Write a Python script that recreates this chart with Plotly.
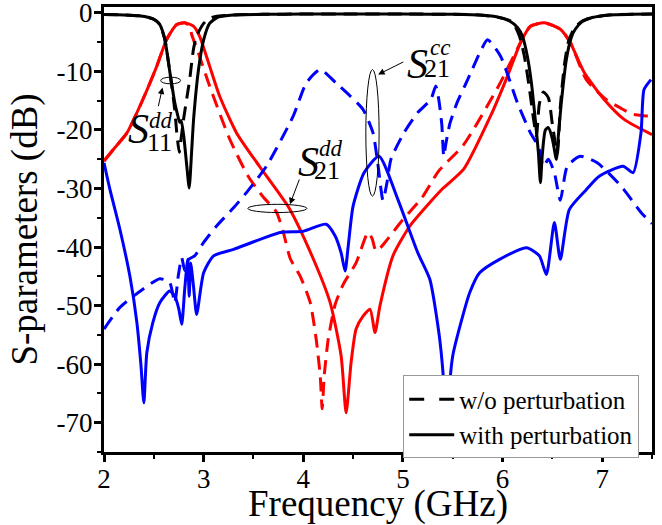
import plotly.graph_objects as go

# ---------------- data ----------------
# S11dd, with perturbation (solid black)
s11_with_f = [2.0, 2.2, 2.35, 2.45, 2.52, 2.56, 2.61, 2.66, 2.71, 2.74, 2.76, 2.775, 2.8, 2.83, 2.855,
              2.88, 2.9, 2.95, 3.0, 3.06, 3.15, 3.3, 3.6, 4.0, 4.5, 5.0, 5.5, 5.8, 5.95, 6.07, 6.15,
              6.2, 6.25, 6.29, 6.33, 6.36, 6.38, 6.40, 6.43, 6.46, 6.5, 6.54, 6.56, 6.59, 6.64, 6.69,
              6.73, 6.8, 6.9, 7.07, 7.3, 7.5]
s11_with_db = [-0.3, -0.35, -0.5, -0.8, -1.3, -2.0, -4.5, -10.0, -15.3, -17.5, -18.7, -18.4, -21.0, -26.0, -29.9,
               -23.5, -18.0, -9.5, -4.6, -1.8, -0.7, -0.35, -0.25, -0.2, -0.2, -0.2, -0.25, -0.4, -0.7, -1.4, -2.5,
               -4.0, -7.5, -12.0, -18.5, -23.9, -29.0, -24.0, -20.0, -19.6, -21.5, -25.0, -21.0, -15.3, -8.0, -4.2,
               -2.8, -1.5, -0.8, -0.35, -0.25, -0.2]

# S11dd, w/o perturbation (dashed black)
s11_wo_f = [2.0, 2.2, 2.35, 2.45, 2.52, 2.56, 2.61, 2.66, 2.71, 2.73, 2.755, 2.77, 2.8, 2.84, 2.86, 2.88,
            2.9, 2.93, 2.96, 3.0, 3.05, 3.12, 3.3, 3.6, 4.0, 4.5, 5.0, 5.5, 5.8, 6.0, 6.1, 6.17, 6.22,
            6.27, 6.31, 6.34, 6.37, 6.41, 6.46, 6.5, 6.55, 6.58, 6.62, 6.66, 6.72, 6.8, 6.9, 7.07, 7.3, 7.5]
s11_wo_db = [-0.3, -0.35, -0.5, -0.8, -1.3, -2.0, -4.5, -10.0, -16.5, -20.4, -23.8, -22.0, -18.0, -13.6, -11.4, -8.5,
             -6.0, -4.0, -2.9, -1.8, -1.0, -0.6, -0.35, -0.25, -0.2, -0.2, -0.2, -0.25, -0.4, -0.9, -1.6, -4.0, -7.5,
             -13.0, -18.0, -21.0, -15.5, -13.5, -14.5, -19.0, -24.0, -16.0, -9.0, -5.0, -2.6, -1.4, -0.8, -0.35, -0.25, -0.2]

# S21dd, with perturbation (solid red)
s21dd_with_f = [2.0, 2.1, 2.23, 2.39, 2.53, 2.63, 2.73, 2.81, 2.9, 2.96, 3.06, 3.16, 3.33, 3.56, 3.86, 4.1,
                4.27, 4.38, 4.43, 4.48, 4.53, 4.6, 4.67, 4.72, 4.77, 4.9, 5.07, 5.27, 5.4, 5.61, 5.88, 6.05,
                6.18, 6.28, 6.42, 6.58, 6.68, 6.82, 7.02, 7.22, 7.5]
s21dd_with_db = [-25.3, -23.2, -20.5, -14.8, -9.1, -4.5, -2.0, -1.7, -2.3, -4.0, -9.1, -14.2, -20.5, -26.2, -33.4, -42.0,
                 -49.5, -58.6, -68.3, -59.7, -54.0, -51.8, -50.6, -54.6, -50.0, -41.5, -36.4, -32.4, -30.0, -26.7, -17.6, -10.8,
                 -5.1, -2.3, -1.7, -2.8, -5.1, -10.2, -14.8, -18.2, -20.8]

# S21dd, w/o perturbation (dashed red)
s21dd_wo_f = [2.0, 2.1, 2.23, 2.39, 2.53, 2.63, 2.73, 2.81, 2.86, 2.88, 2.95, 3.06, 3.26, 3.45, 3.6, 3.73,
              3.8, 3.87, 3.97, 4.07, 4.13, 4.17, 4.19, 4.21, 4.25, 4.32, 4.4, 4.53, 4.65, 4.69, 4.73, 4.78,
              4.83, 5.0, 5.19, 5.36, 5.61, 5.96, 6.18, 6.28, 6.42, 6.58, 6.68, 6.84, 7.04, 7.21, 7.3, 7.44, 7.5]
s21dd_wo_db = [-25.3, -23.2, -20.5, -14.8, -9.1, -4.5, -2.0, -1.7, -2.3, -3.7, -7.0, -12.5, -21.5, -28.0, -31.5, -34.0,
               -37.5, -42.0, -45.0, -49.5, -55.8, -62.0, -67.6, -62.0, -55.8, -49.8, -46.4, -42.7, -37.5, -38.5, -40.7, -40.0,
               -39.0, -35.3, -31.6, -27.0, -22.5, -12.5, -5.1, -2.3, -1.7, -2.8, -5.0, -11.4, -14.8, -16.5, -17.3, -17.6, -17.6]

# S21cc, with perturbation (solid blue)
s21cc_with_f = [2.0, 2.06, 2.16, 2.26, 2.33, 2.37, 2.4, 2.43, 2.49, 2.56, 2.66, 2.71, 2.75, 2.78, 2.81, 2.84,
                2.855, 2.87, 2.9, 2.93, 3.0, 3.1, 3.3, 3.77, 4.0, 4.23, 4.32, 4.38, 4.42, 4.45, 4.5, 4.61,
                4.76, 4.95, 5.15, 5.27, 5.37, 5.42, 5.44, 5.46, 5.5, 5.6, 5.67, 5.77, 5.97, 6.24, 6.37, 6.44,
                6.52, 6.58, 6.67, 6.84, 6.97, 7.21, 7.31, 7.39, 7.42, 7.49]
s21cc_with_db = [-25.6, -30.2, -37.0, -45.0, -52.9, -60.0, -66.6, -58.0, -52.9, -49.5, -47.5, -48.4, -50.5, -53.2, -47.2, -42.1,
                 -48.4, -42.7, -47.0, -51.5, -44.4, -41.5, -40.4, -37.5, -37.3, -36.1, -38.1, -41.0, -44.1, -40.0, -33.0, -27.3,
                 -24.5, -31.9, -41.0, -45.5, -55.8, -66.0, -78.0, -66.0, -58.6, -51.8, -47.8, -44.4, -42.1, -40.1, -41.5, -44.7,
                 -35.8, -42.1, -33.6, -30.2, -27.9, -26.2, -27.3, -20.4, -13.1, -11.4]

# S21cc, w/o perturbation (dashed blue)
s21cc_wo_f = [2.0, 2.16, 2.39, 2.56, 2.66, 2.71, 2.745, 2.78, 2.81, 2.85, 2.91, 3.0, 3.13, 3.3, 3.43, 3.63,
              3.9, 4.03, 4.17, 4.33, 4.47, 4.6, 4.7, 4.75, 4.8, 4.84, 4.88, 5.01, 5.15, 5.28, 5.33, 5.36,
              5.39, 5.41, 5.43, 5.47, 5.54, 5.62, 5.7, 5.78, 5.85, 5.98, 6.15, 6.28, 6.36, 6.41, 6.46, 6.52,
              6.58, 6.65, 6.78, 6.95, 7.19, 7.39, 7.5]
s21cc_wo_db = [-54.0, -50.3, -47.2, -45.4, -46.1, -49.5, -45.0, -41.8, -44.0, -42.1, -41.5, -39.2, -36.4, -33.3, -30.7, -26.2,
               -17.6, -12.0, -9.7, -12.0, -14.2, -16.5, -20.5, -26.0, -32.0, -29.0, -25.0, -20.5, -17.0, -14.8, -12.5, -14.8,
               -19.0, -24.5, -22.5, -19.0, -15.5, -12.5, -9.5, -6.5, -4.6, -7.4, -15.4, -20.5, -22.8, -26.2, -25.0, -27.3,
               -32.0, -26.2, -24.5, -25.6, -29.6, -34.1, -36.0]

x_ticks = [2, 3, 4, 5, 6, 7]
y_ticks = [0, -10, -20, -30, -40, -50, -60, -70]
y_ticktext = ["0", "-10", "-20", "-30", "-40", "-50", "-60", "-70"]
legend_labels = ["w/o perturbation", "with perturbation"]

# ---------------- figure ----------------
FONT = "Times New Roman, Liberation Serif, DejaVu Serif, serif"
DASH = "14px,8px"
LW = 3

fig = go.Figure()

curves = [
    (s21dd_wo_f, s21dd_wo_db, "#FF0000", DASH),
    (s21dd_with_f, s21dd_with_db, "#FF0000", "solid"),
    (s21cc_wo_f, s21cc_wo_db, "#0000FF", DASH),
    (s21cc_with_f, s21cc_with_db, "#0000FF", "solid"),
    (s11_wo_f, s11_wo_db, "#000000", DASH),
    (s11_with_f, s11_with_db, "#000000", "solid"),
]
for fx, fy, col, dash in curves:
    fig.add_trace(go.Scatter(x=fx, y=fy, mode="lines", showlegend=False, hoverinfo="skip",
                             line=dict(color=col, width=LW, dash=dash, shape="spline", smoothing=0.6)))

# legend entries (black samples)
fig.add_trace(go.Scatter(x=[None], y=[None], mode="lines", name=legend_labels[0],
                         line=dict(color="black", width=LW, dash="15px,15px")))
fig.add_trace(go.Scatter(x=[None], y=[None], mode="lines", name=legend_labels[1],
                         line=dict(color="black", width=LW)))

# ellipses
ell = dict(type="circle", xref="x", yref="y", line=dict(color="black", width=1))
fig.add_shape(x0=2.569, x1=2.769, y0=-12.12, y1=-10.99, **ell)
fig.add_shape(x0=3.444, x1=4.036, y0=-34.1, y1=-32.7, **ell)
fig.add_shape(x0=4.628, x1=4.761, y0=-31.3, y1=-9.68, **ell)

# arrows
arr = dict(xref="x", yref="y", axref="x", ayref="y", text="", showarrow=True,
           arrowhead=2, arrowsize=1.3, arrowwidth=1, arrowcolor="black")
fig.add_annotation(x=2.587, y=-12.75, ax=2.542, ay=-16.2, **arr)
fig.add_annotation(x=3.866, y=-32.7, ax=3.966, ay=-28.2, **arr)
fig.add_annotation(x=4.751, y=-10.53, ax=5.019, ay=-8.26, **arr)

# labels
def txt(x, y, t, size):
    fig.add_annotation(x=x, y=y, xref="x", yref="y", text=t, showarrow=False,
                       xanchor="center", yanchor="middle",
                       font=dict(family=FONT, size=size, color="black"))

SZ_S, SZ_SUP, SZ_SUB = 42, 23, 26
txt(2.351, -19.9, "<i>S</i>", SZ_S)
txt(2.572, -18.3, "<i>dd</i>", SZ_SUP)
txt(2.557, -22.1, "11", SZ_SUB)

txt(4.056, -25.4, "<i>S</i>", SZ_S)
txt(4.277, -23.1, "<i>dd</i>", SZ_SUP)
txt(4.242, -27.0, "21", SZ_SUB)

txt(5.144, -8.8, "<i>S</i>", SZ_S)
txt(5.37, -5.9, "<i>cc</i>", SZ_SUP)
txt(5.34, -9.5, "21", SZ_SUB)

tick_font = dict(family=FONT, size=27, color="black")
title_font = dict(family=FONT, size=37, color="black")

axis_common = dict(showline=True, linewidth=3, linecolor="black", mirror=True,
                   ticks="outside", ticklen=7, tickwidth=2.5, tickcolor="black",
                   showgrid=False, zeroline=False, automargin=False,
                   ticklabeloverflow="allow")

fig.update_xaxes(range=[2, 7.5], tickvals=x_ticks, ticklabelstandoff=-6, tickfont=tick_font,
                 minor=dict(ticks="outside", ticklen=4, tickwidth=2, tickcolor="black", dtick=0.5, tick0=2),
                 title=dict(text="Frequency (GHz)", font=title_font, standoff=4),
                 **axis_common)
fig.update_yaxes(range=[-75, 1], tickvals=y_ticks, ticktext=y_ticktext, ticklabelstandoff=-4,
                 tickfont=tick_font,
                 minor=dict(ticks="outside", ticklen=4, tickwidth=2, tickcolor="black",
                            tickvals=[-5, -15, -25, -35, -45, -55, -65, -75]),
                 title=dict(text="S-parameters (dB)", font=title_font, standoff=8),
                 **axis_common)

fig.update_layout(
    width=662, height=525,
    font=dict(family=FONT, color="black"),
    margin=dict(l=104, r=10, t=7, b=73, autoexpand=False),
    plot_bgcolor="white", paper_bgcolor="white",
    legend=dict(x=0.546, y=0.172, xanchor="left", yanchor="top",
                bgcolor="white", bordercolor="#999999", borderwidth=1,
                font=dict(family=FONT, size=25, color="black"),
                itemwidth=45, tracegroupgap=0),
)

fig.write_html("out.html", config={"displayModeBar": False},
               post_script="document.body.style.margin='0';")
